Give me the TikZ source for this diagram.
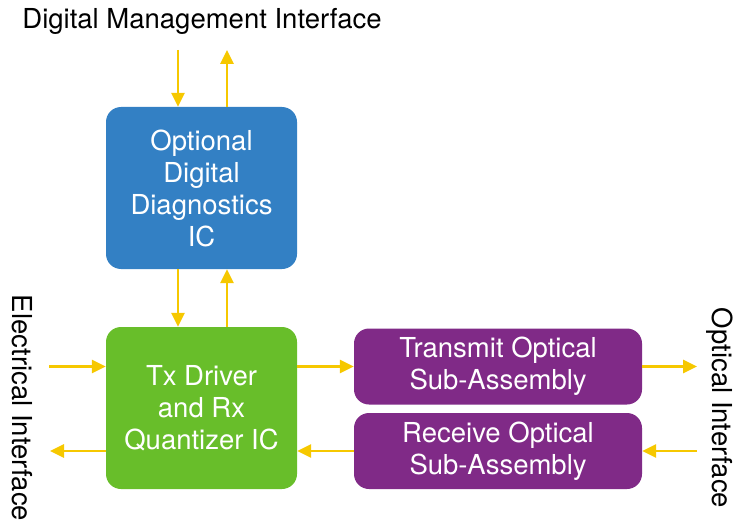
\documentclass[tikz,border=0pt]{standalone}
\usepackage{fontspec}
\setmainfont{TeX Gyre Heros}
\usetikzlibrary{arrows.meta}
\definecolor{diagblue}{RGB}{51,128,196}
\definecolor{drvgreen}{RGB}{104,190,42}
\definecolor{osapurple}{RGB}{128,42,135}
\definecolor{sigyellow}{RGB}{246,200,0}
\tikzset{
  blockbox/.style={rounded corners=15pt, inner sep=0pt, align=center, text=white,
    font=\fontsize{27.5}{32}\selectfont},
  diagbox/.style={blockbox, fill=diagblue, minimum width=191pt, minimum height=162pt},
  drvbox/.style={blockbox, fill=drvgreen, minimum width=191pt, minimum height=162pt},
  osabox/.style={blockbox, fill=osapurple, minimum width=288pt, minimum height=76pt},
  label/.style={inner sep=0pt, font=\fontsize{27.5}{32}\selectfont},
  sig/.style={draw=sigyellow, line width=2.6pt, -{Triangle[length=14pt,width=13pt]}, color=sigyellow}
}
\begin{document}
\begin{tikzpicture}[x=1pt, y=-1pt]
  \useasboundingbox (0,0) rectangle (733,524);

  % titles of the three interfaces
  \node[label] (dmi) at (202,21) {Digital Management Interface};
  \node[label, rotate=-90] (elec) at (22,408) {Electrical Interface};
  \node[label, rotate=-90] (opt) at (720,408) {Optical Interface};

  % functional blocks
  \node[diagbox] (diag) at (201.5,188) {Optional\\Digital\\Diagnostics\\IC};
  \node[drvbox] (drv) at (201.5,408) {Tx Driver\\and Rx\\Quantizer IC};
  \node[osabox] (tosa) at (498,366.5) {Transmit Optical\\Sub-Assembly};
  \node[osabox] (rosa) at (498,451) {Receive Optical\\Sub-Assembly};

  % loose ends of the interface signals
  \coordinate (mgin)  at (178,50);
  \coordinate (mgout) at (227,50);
  \coordinate (ein)   at (49,366.5);
  \coordinate (eout)  at (50,451);
  \coordinate (oout)  at (697,366.5);
  \coordinate (oin)   at (697,451);

  % management bus
  \draw[sig] (mgin) -- (mgin |- diag.north);
  \draw[sig] (mgout |- diag.north) -- (mgout);
  \draw[sig] (mgin |- diag.south) -- (mgin |- drv.north);
  \draw[sig] (mgout |- drv.north) -- (mgout |- diag.south);

  % electrical side
  \draw[sig] (ein) -- (ein -| drv.west);
  \draw[sig] (eout -| drv.west) -- (eout);

  % optical path
  \draw[sig] (drv.east |- tosa.west) -- (tosa.west);
  \draw[sig] (tosa.east) -- (oout);
  \draw[sig] (oin) -- (rosa.east);
  \draw[sig] (rosa.west) -- (drv.east |- rosa.west);
\end{tikzpicture}
\end{document}
